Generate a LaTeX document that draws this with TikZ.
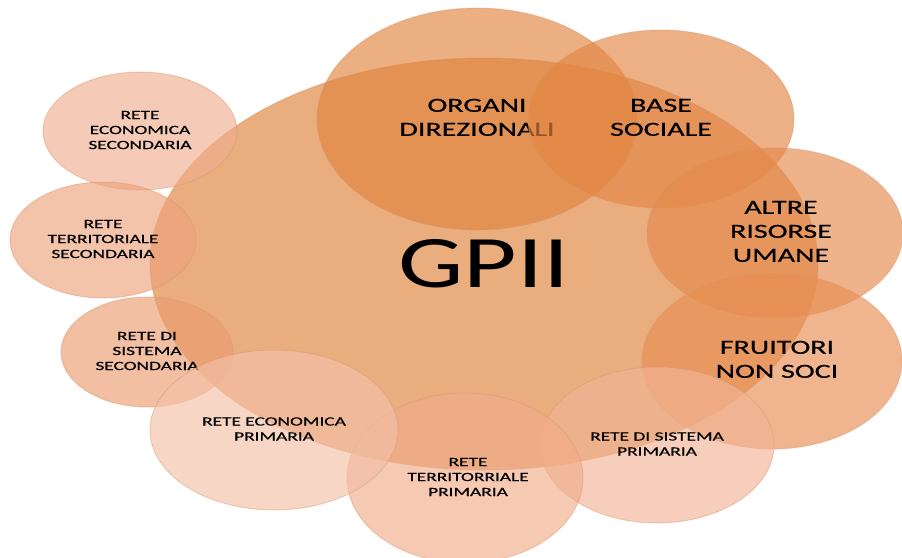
\documentclass[tikz,border=0pt]{standalone}
\usepackage{fontspec}
\setmainfont{Carlito}
\newfontfamily\heavyfont[FakeBold=0.45]{Carlito}
\usepackage{graphicx}
\usetikzlibrary{shapes.geometric}
\definecolor{cBig}{RGB}{233,173,126}
\definecolor{cOrg}{RGB}{224,132,63}
\definecolor{cBase}{RGB}{227,134,68}
\definecolor{cAltre}{RGB}{229,138,76}
\definecolor{cFrui}{RGB}{232,142,82}
\definecolor{cSisP}{RGB}{242,180,150}
\definecolor{cTerP}{RGB}{240,172,137}
\definecolor{cEcoP}{RGB}{244,192,168}
\definecolor{cSisS}{RGB}{235,157,113}
\definecolor{cTerS}{RGB}{237,163,125}
\definecolor{cEcoS}{RGB}{240,174,143}
\definecolor{cRim}{RGB}{215,150,110}
\newcommand{\smtxt}[1]{\scalebox{1.55}[1]{\heavyfont\fontsize{12.5}{15}\selectfont\begin{tabular}{@{}c@{}}#1\end{tabular}}}
\newcommand{\bigtxt}[1]{\scalebox{1.5}[1]{\heavyfont\fontsize{20}{24}\selectfont\begin{tabular}{@{}c@{}}#1\end{tabular}}}
\tikzset{
  bub/.style={ellipse, inner sep=0pt, fill opacity=0.65, text opacity=1,
    draw=cRim, draw opacity=0.4, line width=1pt, text=black},
}
\begin{document}
\begin{tikzpicture}[x=1pt,y=-1pt]
\useasboundingbox (0,0) rectangle (902,557);
\node[bub, fill=cBig, fill opacity=1, minimum width=668pt, minimum height=412pt] (gp) at (484,264)
  {\scalebox{1.4}[1]{\fontsize{74}{80}\selectfont GPII}};
\node[bub, fill=cOrg, minimum width=320pt, minimum height=222pt] (org) at (477,119)
  {\bigtxt{ORGANI\\DIREZIONALI}};
\node[bub, fill=cBase, minimum width=266pt, minimum height=178pt] (base) at (661,119)
  {\bigtxt{BASE\\SOCIALE}};
\node[bub, fill=cAltre, minimum width=256pt, minimum height=170pt] (altre) at (775,233)
  {\hspace*{12pt}\bigtxt{ALTRE\\RISORSE\\UMANE}};
\node[bub, fill=cFrui, minimum width=260pt, minimum height=176pt] (frui) at (772,361)
  {\hspace*{10pt}\bigtxt{FRUITORI\\NON SOCI}};
\node[bub, fill=cSisP, minimum width=234pt, minimum height=156pt] (sisp) at (657,445)
  {\smtxt{RETE DI SISTEMA\\PRIMARIA}};
\node[bub, fill=cTerP, minimum width=236pt, minimum height=170pt] (terp) at (465,478)
  {\hspace*{6pt}\smtxt{RETE\\TERRITORRIALE\\PRIMARIA}};
\node[bub, fill=cEcoS, minimum width=194pt, minimum height=118pt] (ecos) at (140,131)
  {\smtxt{RETE\\ECONOMICA\\SECONDARIA}};
\node[bub, fill=cTerS, minimum width=186pt, minimum height=116pt] (ters) at (103,240)
  {\smtxt{RETE\\TERRITORIALE\\SECONDARIA}};
\node[bub, fill=cSisS, minimum width=172pt, minimum height=110pt] (siss) at (147,352)
  {\smtxt{RETE DI\\SISTEMA\\SECONDARIA}};
\node[bub, fill=cEcoP, minimum width=248pt, minimum height=160pt] (ecop) at (274,430)
  {\smtxt{RETE ECONOMICA\\PRIMARIA}};
\end{tikzpicture}
\end{document}
